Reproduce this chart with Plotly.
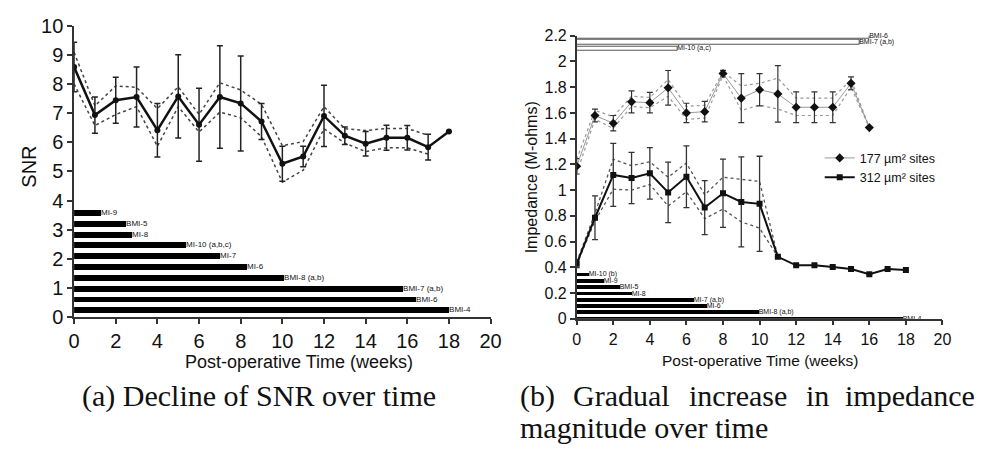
import plotly.graph_objects as go

W, H = 986, 456
def px(x): return x / W
def py(y): return 1 - y / H

# ---------------- (a) SNR data ----------------
snr_weeks = list(range(19))
snr_mean = [8.58, 6.93, 7.44, 7.55, 6.41, 7.57, 6.60, 7.55, 7.33, 6.71, 5.26, 5.51, 6.90, 6.22, 5.95, 6.15, 6.15, 5.83, 6.37]
snr_err = [0.85, 0.62, 0.79, 1.03, 0.92, 1.43, 1.25, 1.76, 1.63, 0.62, 0.60, 0.35, 1.05, 0.30, 0.42, 0.43, 0.42, 0.44, None]
snr_band_weeks = list(range(18))
snr_upper = [9.08, 7.25, 7.93, 7.88, 7.15, 7.90, 6.95, 8.04, 7.79, 7.30, 5.88, 6.02, 7.22, 6.46, 6.40, 6.47, 6.47, 6.24]
snr_lower = [8.00, 6.57, 6.95, 7.22, 5.86, 7.22, 6.35, 7.03, 6.84, 6.19, 4.63, 5.04, 6.46, 5.97, 5.68, 5.81, 5.81, 5.59]
snr_bar_labels = ["BMI-4", "BMI-6", "BMI-7 (a,b)", "BMI-8 (a,b)", "MI-6", "MI-7", "MI-10 (a,b,c)", "MI-8", "BMI-5", "MI-9"]
snr_bar_weeks = [18.0, 16.4, 15.8, 10.1, 8.3, 7.0, 5.4, 2.8, 2.5, 1.3]

# ---------------- (b) Impedance data ----------------
w177 = list(range(17))
imp177 = [1.185, 1.58, 1.52, 1.686, 1.68, 1.795, 1.60, 1.61, 1.906, 1.715, 1.78, 1.748, 1.644, 1.644, 1.644, 1.83, 1.486]
err177 = [0.06, 0.05, 0.06, 0.085, 0.08, 0.135, 0.075, 0.08, 0.025, 0.19, 0.125, 0.22, 0.12, 0.12, 0.12, 0.05, None]
up177 = [1.24, 1.62, 1.57, 1.73, 1.72, 1.86, 1.65, 1.66, 1.92, 1.81, 1.83, 1.87, 1.715, 1.715, 1.715, 1.86, 1.486]
lo177 = [1.13, 1.55, 1.48, 1.65, 1.64, 1.73, 1.55, 1.56, 1.89, 1.62, 1.66, 1.63, 1.58, 1.58, 1.58, 1.80, 1.486]

w312 = list(range(19))
imp312 = [0.427, 0.785, 1.118, 1.094, 1.13, 0.982, 1.104, 0.864, 0.975, 0.908, 0.893, 0.481, 0.415, 0.415, 0.402, 0.387, 0.345, 0.387, 0.378]
err312 = [0.03, 0.17, 0.245, 0.2, 0.2, 0.235, 0.24, 0.21, 0.265, 0.35, 0.37] + [None] * 8
band312_weeks = list(range(12))
up312 = [0.44, 0.82, 1.24, 1.19, 1.22, 1.10, 1.21, 0.963, 1.10, 1.086, 1.067, 0.481]
lo312 = [0.42, 0.76, 1.007, 1.0, 1.044, 0.876, 0.987, 0.778, 0.852, 0.753, 0.704, 0.481]

imp_bar_labels = ["BMI-4", "BMI-8 (a,b)", "MI-6", "MI-7 (a,b)", "MI-8", "BMI-5", "MI-9", "MI-10 (b)"]
imp_bar_weeks = [17.8, 9.95, 7.1, 6.4, 3.0, 2.35, 1.45, 0.65]
imp_top_labels = ["MI-10 (a,c)", "BMI-7 (a,b)", "BMI-6"]
imp_top_weeks = [5.5, 15.45, 16.0]

x_ticks = list(range(0, 21, 2))

SANS = "Liberation Sans, Arial, sans-serif"
SERIF = "Liberation Serif, Times New Roman, serif"

fig = go.Figure()

# ---- (a) traces ----
for band in (snr_upper, snr_lower):
    fig.add_trace(go.Scatter(x=snr_band_weeks, y=band, mode="lines", xaxis="x", yaxis="y",
                             line=dict(color="#444", width=1.5, dash="dot"), showlegend=False, hoverinfo="skip"))
fig.add_trace(go.Scatter(x=snr_weeks, y=snr_mean, mode="lines+markers", xaxis="x", yaxis="y",
                         line=dict(color="#111", width=2.5), marker=dict(color="#111", size=6),
                         error_y=dict(type="data", array=snr_err, color="#222", thickness=1.5, width=3),
                         showlegend=False))
fig.add_trace(go.Bar(x=snr_bar_weeks, y=list(range(len(snr_bar_weeks))), orientation="h",
                     xaxis="x", yaxis="y3", width=0.55, marker=dict(color="#000", line=dict(width=0)),
                     text=snr_bar_labels, textposition="outside", constraintext="none", cliponaxis=False,
                     outsidetextfont=dict(family=SANS, size=8, color="#111"), showlegend=False))

# ---- (b) traces ----
for band in (up177, lo177):
    fig.add_trace(go.Scatter(x=w177, y=band, mode="lines", xaxis="x2", yaxis="y2",
                             line=dict(color="#999", width=1.2, dash="dot"), showlegend=False, hoverinfo="skip"))
for band in (up312, lo312):
    fig.add_trace(go.Scatter(x=band312_weeks, y=band, mode="lines", xaxis="x2", yaxis="y2",
                             line=dict(color="#555", width=1.3, dash="dot"), showlegend=False, hoverinfo="skip"))
fig.add_trace(go.Scatter(x=w177, y=imp177, mode="lines+markers", xaxis="x2", yaxis="y2",
                         name="177 µm² sites",
                         line=dict(color="#999", width=1), marker=dict(color="#111", size=7, symbol="diamond"),
                         error_y=dict(type="data", array=err177, color="#333", thickness=1.2, width=3)))
fig.add_trace(go.Scatter(x=w312, y=imp312, mode="lines+markers", xaxis="x2", yaxis="y2",
                         name="312 µm² sites",
                         line=dict(color="#111", width=2), marker=dict(color="#111", size=6, symbol="square"),
                         error_y=dict(type="data", array=err312, color="#333", thickness=1.3, width=3)))
fig.add_trace(go.Bar(x=imp_bar_weeks, y=list(range(len(imp_bar_weeks))), orientation="h",
                     xaxis="x2", yaxis="y4", width=0.6, marker=dict(color="#000", line=dict(width=0)),
                     text=imp_bar_labels, textposition="outside", constraintext="none", cliponaxis=False,
                     outsidetextfont=dict(family=SANS, size=7, color="#111"), showlegend=False))
fig.add_trace(go.Bar(x=imp_top_weeks, y=[43 + i for i in range(len(imp_top_weeks))], orientation="h",
                     xaxis="x2", yaxis="y4", width=0.75, marker=dict(color="#fff", line=dict(width=1, color="#555")),
                     text=imp_top_labels, textposition="outside", constraintext="none", cliponaxis=False,
                     outsidetextfont=dict(family=SANS, size=7, color="#111"), showlegend=False))

axis_common = dict(showgrid=False, zeroline=False, showline=True, linecolor="#333", linewidth=1.5,
                   ticks="outside", ticklen=5, tickwidth=1.5, tickcolor="#333")

fig.update_layout(
    width=W, height=H, margin=dict(l=0, r=0, t=0, b=0),
    paper_bgcolor="white", plot_bgcolor="white",
    font=dict(family=SANS, color="#111"),
    xaxis=dict(domain=[px(69.3), px(493.1)], range=[0, 20], tickvals=x_ticks, anchor="y",
               tickfont=dict(size=20), **axis_common),
    yaxis=dict(domain=[py(321.7), py(15.3)], range=[0, 10], dtick=1, anchor="x",
               tickfont=dict(size=20), **axis_common),
    yaxis3=dict(overlaying="y", anchor="x", range=[-0.674, 26.28], visible=False),
    xaxis2=dict(domain=[px(580.7), px(952.9)], range=[0, 20], tickvals=x_ticks, anchor="y2",
                tickfont=dict(size=16), **axis_common),
    yaxis2=dict(domain=[py(323.3), py(26.0)], range=[0, 2.2], dtick=0.2, anchor="x2",
                tickfont=dict(size=16), **axis_common),
    yaxis4=dict(overlaying="y2", anchor="x2", range=[-0.082, 45.09], visible=False),
    legend=dict(x=px(828), y=py(139), xanchor="left", yanchor="top", bgcolor="rgba(0,0,0,0)",
                font=dict(size=12.5, family=SANS), tracegroupgap=0),
    bargap=0,
)

ann = []
ann.append(dict(text="SNR", x=px(23), y=py(164), textangle=-90, font=dict(size=20)))
ann.append(dict(text="Post-operative Time (weeks)", x=px(298), y=py(369), font=dict(size=18)))
ann.append(dict(text="Impedance (M-ohms)", x=px(535), y=py(175), textangle=-90, font=dict(size=16)))
ann.append(dict(text="Post-operative Time (weeks)", x=px(767), y=py(367), font=dict(size=15.5)))
# captions
CAP = 30
ann.append(dict(text="(a) Decline of SNR over time", x=px(257), y=py(404),
                font=dict(size=CAP, family=SERIF)))
words_b = ["(b)", "Gradual", "increase", "in"]
word_x = [521, 575, 693, 812]
for wd, wx in zip(words_b, word_x):
    ann.append(dict(text=wd, x=px(wx), y=py(404), xanchor="left", font=dict(size=CAP, family=SERIF)))
ann.append(dict(text="impedance", x=px(988), y=py(404), xanchor="right", font=dict(size=CAP, family=SERIF)))
ann.append(dict(text="magnitude over time", x=px(521), y=py(438), xanchor="left",
                font=dict(size=CAP, family=SERIF)))
for a in ann:
    a.update(xref="paper", yref="paper", showarrow=False)
    a.setdefault("xanchor", "center")
    a.setdefault("yanchor", "middle")
fig.update_layout(annotations=ann)

fig.write_html("out.html")
